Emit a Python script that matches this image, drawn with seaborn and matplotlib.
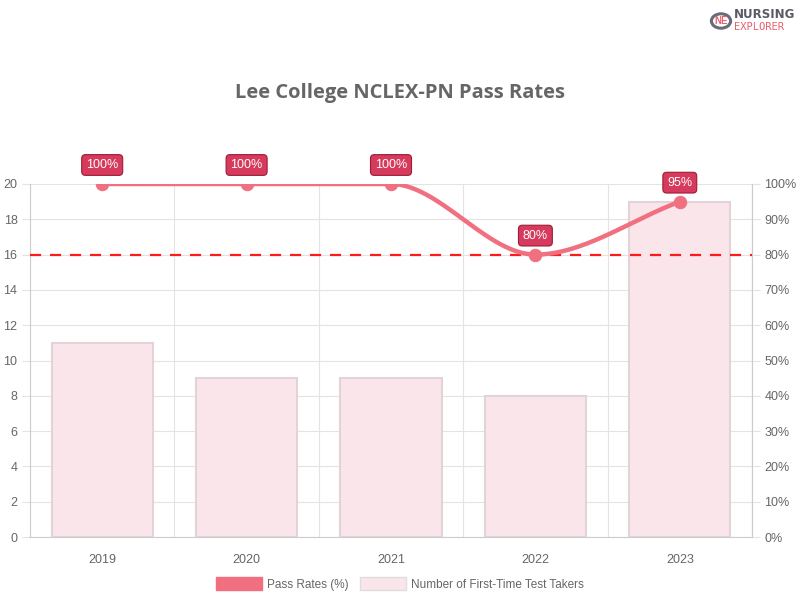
import numpy as np
import pandas as pd
import matplotlib
matplotlib.use("Agg")
import matplotlib.pyplot as plt
from matplotlib.patches import Patch, Circle
import seaborn as sns

years = ["2019", "2020", "2021", "2022", "2023"]
pass_rates = [100, 100, 100, 80, 95]
test_takers = [11, 9, 9, 8, 19]
benchmark = 80
title = "Lee College NCLEX-PN Pass Rates"

sns.set_theme(style="white")
plt.rcParams['font.family'] = ['Liberation Sans', 'DejaVu Sans']

GRAY = "#666666"
GRID = "#e3e3e3"
LINE = "#f07080"
BAR = "#f9e5ea"
BAREDGE = "#e2d3d8"

fig = plt.figure(figsize=(8, 6), dpi=100)
ax = fig.add_axes([30/800, 1-537/600, (752-30)/800, (537-184)/600])

df = pd.DataFrame({"year": years, "takers": test_takers})
sns.barplot(data=df, x="year", y="takers", ax=ax, width=0.7, color=BAR,
            edgecolor=BAREDGE, linewidth=1.5, saturation=1, zorder=2)

ax.set_xlim(-0.5, 4.5)
ax.set_ylim(0, 20)
ax.set_yticks(range(0, 21, 2))
ax.set_xlabel("")
ax.set_ylabel("")
ax.set_xticks(range(5))
ax.set_xticklabels(years)
ax.set_xticks(np.arange(-0.5, 4.6, 1), minor=True)
ax.grid(axis="y", color=GRID, linewidth=0.8, zorder=0)
ax.grid(axis="x", which="minor", color=GRID, linewidth=0.8, zorder=0)
ax.tick_params(axis="x", which="major", length=0, pad=12, labelsize=9, labelcolor=GRAY)
ax.tick_params(axis="x", which="minor", length=10, color=GRID, width=0.8)
ax.tick_params(axis="y", length=6, color=GRID, width=0.8, labelsize=9, labelcolor=GRAY, pad=3, left=True)
ax.spines["top"].set_visible(False)
for s in ["left", "bottom", "right"]:
    ax.spines[s].set_color("#cccccc")
    ax.spines[s].set_linewidth(0.8)

ax2 = ax.twinx()
ax2.set_ylim(0, 100)
ax2.set_yticks(range(0, 101, 10))
ax2.set_yticklabels([f"{v}%" for v in range(0, 101, 10)])
ax2.tick_params(axis="y", length=6, color=GRID, width=0.8, labelsize=9, labelcolor=GRAY, pad=3)
for s in ["top", "left", "bottom"]:
    ax2.spines[s].set_visible(False)
ax2.spines["right"].set_color("#cccccc")
ax2.spines["right"].set_linewidth(0.8)
ax2.grid(False)

# benchmark line
ax2.axhline(benchmark, color="#ff1a1a", linestyle=(0, (5, 4)), linewidth=1.6, zorder=3)

# monotone cubic curve through data
xs = np.arange(len(years), dtype=float)
ys = np.array(pass_rates, dtype=float)
d = np.diff(ys) / np.diff(xs)
m = np.zeros(len(ys))
m[0], m[-1] = d[0], d[-1]
for k in range(1, len(ys) - 1):
    if d[k-1] == 0 or d[k] == 0 or np.sign(d[k-1]) != np.sign(d[k]):
        m[k] = 0
    else:
        m[k] = (d[k-1] + d[k]) / 2
for k in range(len(d)):
    if d[k] == 0:
        m[k] = m[k+1] = 0
    else:
        a, b = m[k] / d[k], m[k+1] / d[k]
        s = a*a + b*b
        if s > 9:
            t = 3 / np.sqrt(s)
            m[k] = t*a*d[k]
            m[k+1] = t*b*d[k]
cx, cy = [], []
tt = np.linspace(0, 1, 60)
for k in range(len(d)):
    dx = (xs[k+1] - xs[k]) / 3
    P = np.array([[xs[k], ys[k]], [xs[k]+dx, ys[k]+m[k]*dx],
                  [xs[k+1]-dx, ys[k+1]-m[k+1]*dx], [xs[k+1], ys[k+1]]])
    B = ((1-tt)**3)[:, None]*P[0] + (3*(1-tt)**2*tt)[:, None]*P[1] + \
        (3*(1-tt)*tt**2)[:, None]*P[2] + (tt**3)[:, None]*P[3]
    cx.extend(B[:, 0]); cy.extend(B[:, 1])
ax2.plot(cx, cy, color=LINE, linewidth=3.2, zorder=4, solid_capstyle="round")
sns.scatterplot(x=xs, y=ys, ax=ax2, color=LINE, s=80, edgecolor=LINE, zorder=5, legend=False)

for x, y in zip(xs, ys):
    ax2.annotate(f"{int(y)}%", (x, y), xytext=(0, 19), textcoords="offset pixels",
                 ha="center", va="center", fontsize=9, color="white", zorder=6,
                 bbox=dict(boxstyle="round,pad=0.35,rounding_size=0.3",
                           fc="#d63a5c", ec="#9e1c36", lw=0.8))

fig.text(0.5, 1-93/600, title, ha="center", va="center", fontsize=14.5,
         fontweight="bold", color=GRAY, family=["Open Sans", "DejaVu Sans"])

handles = [Patch(facecolor=LINE, edgecolor=LINE),
           Patch(facecolor=BAR, edgecolor="#dddddd", linewidth=1)]
fig.legend(handles, ["Pass Rates (%)", "Number of First-Time Test Takers"],
           loc="center", bbox_to_anchor=(0.5, 1-584/600), ncol=2, frameon=False,
           fontsize=8.5, labelcolor=GRAY, handlelength=3.9, handleheight=1.2,
           columnspacing=1.0, handletextpad=0.4)

# logo
fig.add_artist(Circle((721/800, 1-21/600), 0.012, transform=fig.transFigure,
                      fill=False, ec="#6b6b78", lw=2.2))
fig.text(721/800, 1-21/600, "NE", ha="center", va="center", fontsize=7,
         color="#e8606e", fontweight="bold")
fig.text(734/800, 1-15/600, "NURSING", ha="left", va="center", fontsize=8.5,
         color="#5a5a66", fontweight="bold", family=["DejaVu Sans"])
fig.text(734/800, 1-27/600, "EXPLORER", ha="left", va="center", fontsize=7.5,
         color="#e8606e", family=["DejaVu Sans Mono", "DejaVu Sans"])

fig.savefig("out.png", dpi=100)
